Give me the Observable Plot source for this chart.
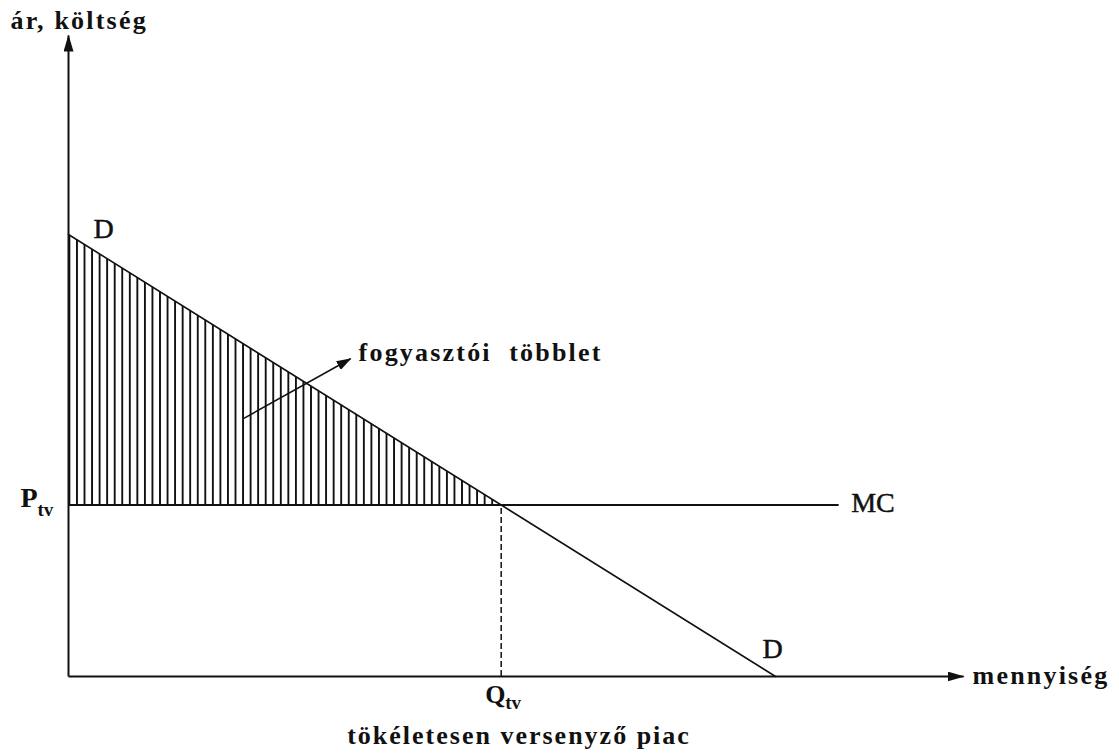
<!DOCTYPE html>
<html><head><meta charset="utf-8">
<script src="https://cdn.jsdelivr.net/npm/d3@7"></script>
<script src="https://cdn.jsdelivr.net/npm/@observablehq/plot@0.6"></script>
<style>body{margin:0;background:#fff}</style>
</head><body><div id="chart"></div>
<script>
// Demand curve D (quantity, price)
const demandQ = [0, 10];
const demandP = [10, 0];
// Competitive equilibrium
const Ptv = 3.88;
const Qtv = 6.12;
// Extents
const mcEndQ = 10.9;
const axisEndQ = 12.66;
const axisEndP = 14.5;
// Annotation arrow "fogyasztói többlet"
const annoFromQ = 2.48, annoFromP = 5.84;
const annoToQ = 3.99, annoToP = 7.19;
// Texts
const yTitle = "ár, költség";
const xTitle = "mennyiség";
const caption = "tökéletesen versenyző piac";
const annoText = "fogyasztói  többlet";

const demand = demandQ.map((q, i) => ({q, p: demandP[i]}));
const surplus = [{q: demandQ[0], p: demandP[0]}, {q: Qtv, p: Ptv}];
const axes = [
  {x1: 0, y1: 0, x2: axisEndQ, y2: 0},
  {x1: 0, y1: 0, x2: 0, y2: axisEndP}
];

const serif = "'Liberation Serif', 'Times New Roman', serif";
const ink = "#111";

const plot = Plot.plot({
  width: 1119,
  height: 755,
  marginLeft: 68,
  marginRight: 344,
  marginTop: 234,
  marginBottom: 79,
  x: {domain: [0, 10], axis: null},
  y: {domain: [0, 10], axis: null},
  style: {background: "#fff", overflow: "visible"},
  marks: [
    Plot.areaY(surplus, {x: "q", y1: Ptv, y2: "p", fill: "url(#hatch)"}),
    Plot.line(demand, {x: "q", y: "p", stroke: ink, strokeWidth: 1.6}),
    Plot.ruleY([Ptv], {x1: 0, x2: mcEndQ, stroke: ink, strokeWidth: 2}),
    Plot.ruleX([Qtv], {y1: 0, y2: Ptv, stroke: ink, strokeWidth: 1.5, strokeDasharray: "6,3"}),
    Plot.link(axes, {x1: "x1", y1: "y1", x2: "x2", y2: "y2", stroke: ink, strokeWidth: 2, ariaDescription: "axis-arrow"}),
    Plot.link([{}], {x1: () => annoFromQ, y1: () => annoFromP, x2: () => annoToQ, y2: () => annoToP, stroke: ink, strokeWidth: 1.6, ariaDescription: "anno-arrow"}),
    // D labels
    Plot.text([demand[0]], {x: "q", y: "p", text: () => "D", textAnchor: "start", dx: 25, dy: -5, fontFamily: serif, fontSize: 28, fill: ink, stroke: ink, strokeWidth: 0.5}),
    Plot.text([demand[1]], {x: "q", y: "p", text: () => "D", textAnchor: "start", dx: -13, dy: -27, fontFamily: serif, fontSize: 28, fill: ink, stroke: ink, strokeWidth: 0.5}),
    // MC
    Plot.text([{q: mcEndQ, p: Ptv}], {x: "q", y: "p", text: () => "MC", textAnchor: "start", dx: 12, dy: -1.5, fontFamily: serif, fontSize: 28, fill: ink, stroke: ink, strokeWidth: 0.5}),
    // P_tv
    Plot.text([{q: 0, p: Ptv}], {x: "q", y: "p", text: () => "P", textAnchor: "end", dx: -31, dy: -6.5, fontFamily: serif, fontSize: 28, fontWeight: "bold", fill: ink}),
    Plot.text([{q: 0, p: Ptv}], {x: "q", y: "p", text: () => "tv", textAnchor: "start", dx: -31, dy: 4.5, fontFamily: serif, fontSize: 19, fontWeight: "bold", fill: ink}),
    // Q_tv
    Plot.text([{q: Qtv, p: 0}], {x: "q", y: "p", text: () => "Q", textAnchor: "start", dx: -16, dy: 17.7, fontFamily: serif, fontSize: 26, fontWeight: "bold", fill: ink}),
    Plot.text([{q: Qtv, p: 0}], {x: "q", y: "p", text: () => "tv", textAnchor: "start", dx: 4, dy: 26, fontFamily: serif, fontSize: 19, fontWeight: "bold", fill: ink}),
    // axis titles
    Plot.text([{q: axisEndQ, p: 0}], {x: "q", y: "p", text: () => xTitle, textAnchor: "start", dx: 9, dy: -1.3, fontFamily: serif, fontSize: 26, fontWeight: "bold", fill: ink, ariaDescription: "spaced"}),
    Plot.text([{q: 0, p: axisEndP}], {x: "q", y: "p", text: () => yTitle, textAnchor: "start", dx: -58, dy: -15.3, fontFamily: serif, fontSize: 26, fontWeight: "bold", fill: ink, ariaDescription: "spaced"}),
    Plot.text([{q: Qtv, p: 0}], {x: "q", y: "p", text: () => caption, textAnchor: "start", dx: -154, dy: 58.7, fontFamily: serif, fontSize: 26, fontWeight: "bold", fill: ink, ariaDescription: "spaced-caption"}),
    Plot.text([{q: annoToQ, p: annoToP}], {x: "q", y: "p", text: () => annoText, textAnchor: "start", dx: 8, dy: -6.3, fontFamily: serif, fontSize: 26, fontWeight: "bold", fill: ink, ariaDescription: "spaced"})
  ]
});

// defs: hatch pattern and filled arrowheads
const ns = "http://www.w3.org/2000/svg";
const defs = document.createElementNS(ns, "defs");
defs.innerHTML = `
  <pattern id="hatch" patternUnits="userSpaceOnUse" width="7.55" height="10" x="0.5" y="0">
    <rect x="0" y="0" width="1.9" height="10" fill="${ink}"></rect>
  </pattern>
  <marker id="ahead" viewBox="0 0 17 10" refX="16" refY="5" markerWidth="17" markerHeight="10" markerUnits="userSpaceOnUse" orient="auto">
    <path d="M0,0L17,5L0,10Z" fill="${ink}"></path>
  </marker>
  <marker id="ahead2" viewBox="0 0 15 10" refX="14" refY="5" markerWidth="15" markerHeight="10" markerUnits="userSpaceOnUse" orient="auto">
    <path d="M0,0L15,5L0,10Z" fill="${ink}"></path>
  </marker>`;
plot.insertBefore(defs, plot.firstChild);
plot.querySelectorAll('g[aria-description="axis-arrow"] path, g[aria-description="axis-arrow"] line').forEach(e => e.setAttribute("marker-end", "url(#ahead)"));
plot.querySelectorAll('g[aria-description="anno-arrow"] path, g[aria-description="anno-arrow"] line').forEach(e => e.setAttribute("marker-end", "url(#ahead2)"));
plot.querySelectorAll('g[aria-description="spaced"]').forEach(g => g.style.letterSpacing = "2.2px");
plot.querySelectorAll('g[aria-description="spaced-caption"]').forEach(g => g.style.letterSpacing = "2px");
document.getElementById("chart").appendChild(plot);
</script>
</body></html>
